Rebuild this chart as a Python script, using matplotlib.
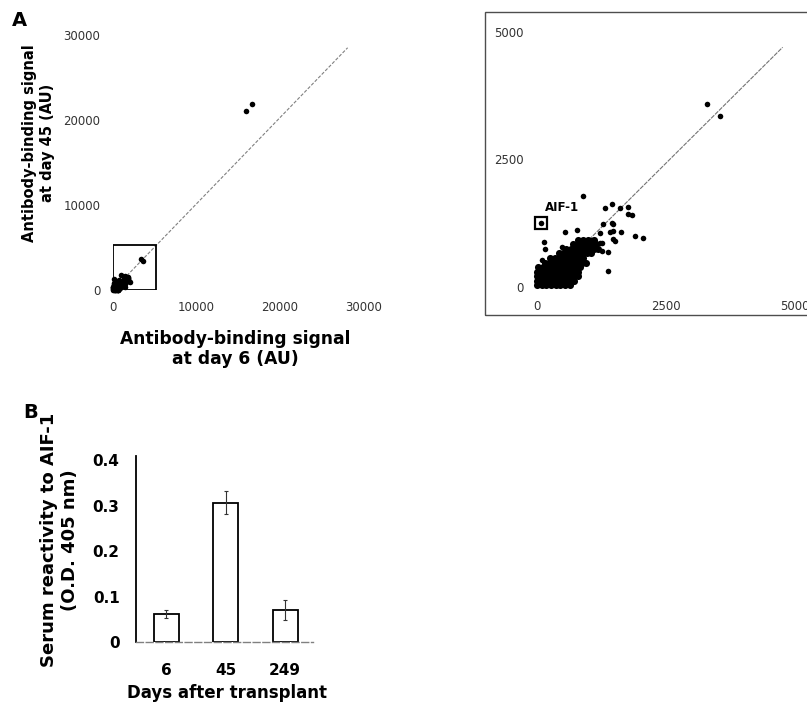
import numpy as np
import matplotlib
matplotlib.use("Agg")
import matplotlib.pyplot as plt
from matplotlib.patches import Rectangle

plt.rcParams['font.family'] = ['DejaVu Sans']

# array spots: (day 6 signal, day 45 signal) in AU
high_spots = [(15900, 21050), (16700, 21900)]
mid_spots = [(3300, 3590), (3540, 3360)]
scatter_spots = [
    (1320, 1555), (1460, 1620), (1610, 1545), (1770, 1575), (1770, 1425), (1850, 1410),
    (1270, 1230), (1450, 1260), (1480, 1230), (1220, 1065), (1420, 1085), (1470, 1105),
    (1620, 1085), (1480, 935), (1510, 905), (1890, 1000), (2050, 955), (1255, 870),
    (1255, 705), (1380, 320), (900, 1785), (540, 1085), (770, 1120), (140, 875),
    (160, 740), (480, 790), (1060, 920), (1220, 870), (1380, 690), (95, 530),
    (320, 530), (510, 530), (540, 40),
]
cluster_spots = [
    (0, 30), (90, 30), (180, 30), (270, 30), (360, 30), (450, 30), (540, 30), (630, 30),
    (0, 120), (90, 120), (180, 120), (270, 120), (360, 120), (450, 120), (540, 120), (630, 120), (720, 120),
    (0, 210), (90, 210), (180, 210), (270, 210), (360, 210), (450, 210), (540, 210), (630, 210), (720, 210), (790, 210),
    (0, 300), (90, 300), (180, 300), (270, 300), (360, 300), (450, 300), (540, 300), (630, 300), (720, 300), (800, 300),
    (20, 390), (110, 390), (200, 390), (290, 390), (380, 390), (470, 390), (560, 390), (650, 390), (740, 390), (830, 390),
    (150, 480), (240, 480), (330, 480), (420, 480), (510, 480), (600, 480), (690, 480), (780, 480), (870, 480), (940, 480),
    (260, 570), (350, 570), (440, 570), (530, 570), (620, 570), (710, 570), (800, 570), (890, 570),
    (420, 660), (510, 660), (600, 660), (690, 660), (780, 660), (870, 660), (960, 660), (1050, 660),
    (560, 750), (650, 750), (740, 750), (830, 750), (920, 750), (1010, 750), (1100, 750), (1180, 750),
    (700, 840), (790, 840), (880, 840), (970, 840), (1060, 840), (1150, 840),
    (800, 930), (890, 930), (980, 930), (1100, 930),
]
aif1_spot = (75, 1250)

# diagonal reference lines
full_line_x = [0, 28100]
full_line_y = [0, 28500]
zoom_line_x = [930, 4760]
zoom_line_y = [850, 4700]

full_ticks = [0, 10000, 20000, 30000]
zoom_ticks = [0, 2500, 5000]

# panel B
days = ['6', '45', '249']
reactivity = [0.062, 0.306, 0.071]
reactivity_err = [0.009, 0.025, 0.022]

single = np.array(high_spots + mid_spots + scatter_spots + [aif1_spot])
cluster = np.array(cluster_spots)

W, H = 807, 704
fig = plt.figure(figsize=(W / 100, H / 100), dpi=100)


def place(x0, y0, sx, sy, xlim, ylim):
    # x0, y0: pixel of data (0, 0); sx, sy: pixels per unit
    left = x0 + xlim[0] * sx
    right = x0 + xlim[1] * sx
    bottom = y0 - ylim[0] * sy
    top = y0 - ylim[1] * sy
    ax = fig.add_axes([left / W, 1 - bottom / H, (right - left) / W, (bottom - top) / H])
    ax.set_xlim(xlim)
    ax.set_ylim(ylim)
    return ax


tick_font = dict(size=8.5, color='0.2')

# ---- A, full range
ax_l = place(113, 290, 83.5 / 10000, 85 / 10000, (0, 30000), (0, 30000))
for s in ax_l.spines.values():
    s.set_visible(False)
ax_l.plot(full_line_x, full_line_y, color='0.5', lw=0.8, ls=(0, (3, 1.5)))
ax_l.scatter(single[:, 0], single[:, 1], s=16, color='black', lw=0, clip_on=False, zorder=3)
ax_l.scatter(cluster[:, 0], cluster[:, 1], s=16, color='black', lw=0, clip_on=False, zorder=3)
ax_l.add_patch(Rectangle((0, 0), 5200, 5300, fill=False, ec='black', lw=1.3, zorder=4))
ax_l.set_xticks(full_ticks)
ax_l.set_yticks(full_ticks)
ax_l.set_xticklabels([str(t) for t in full_ticks], **tick_font)
ax_l.set_yticklabels([str(t) for t in full_ticks], **tick_font)
ax_l.tick_params(length=0)
ax_l.tick_params(axis='x', pad=8)
ax_l.tick_params(axis='y', pad=9)

# ---- A, zoomed
sx = 129 / 2500
sy = 127.5 / 2500
ax_r = place(537, 287, sx, sy, (-150, 5000), (-150, 5000))
for s in ax_r.spines.values():
    s.set_visible(False)
ax_r.plot(zoom_line_x, zoom_line_y, color='0.45', lw=0.8, ls=(0, (4, 1)))
ax_r.scatter(cluster[:, 0], cluster[:, 1], s=26, color='black', lw=0, zorder=3)
ax_r.scatter(single[:, 0], single[:, 1], s=16, color='black', lw=0, zorder=3)
ax_r.plot([aif1_spot[0]], [aif1_spot[1]], marker='s', ms=9, mfc='none', mec='black', mew=1.6)
ax_r.text(490, 1560, 'AIF-1', ha='center', va='center', fontsize=8.5, fontweight='bold')
ax_r.set_xticks(zoom_ticks)
ax_r.set_yticks(zoom_ticks)
ax_r.set_xticklabels([str(t) for t in zoom_ticks], **tick_font)
ax_r.set_yticklabels([str(t) for t in zoom_ticks], **tick_font)
ax_r.tick_params(length=0)
ax_r.tick_params(axis='x', pad=3.5)
ax_r.tick_params(axis='y', pad=4)

# frame around zoomed panel (runs off the right edge)
fig.add_artist(Rectangle((485 / W, 1 - 315 / H), 330 / W, 303 / H, transform=fig.transFigure,
                         fill=False, ec='0.3', lw=1.0))

# connector from box to zoomed panel
ax_r.annotate('', xy=(-1050, 420), xycoords='data',
              xytext=(5200, 3150), textcoords=ax_l.transData,
              arrowprops=dict(arrowstyle='-|>', color='0.3', lw=0.8, ls=(0, (4, 1.5)),
                              mutation_scale=9, shrinkA=0, shrinkB=0))

fig.text(38.5 / W, 1 - 143 / H, 'Antibody-binding signal\nat day 45 (AU)', rotation=90,
         ha='center', va='center', multialignment='center', fontsize=10.5, fontweight='bold',
         linespacing=1.2)
fig.text(235 / W, 1 - 349 / H, 'Antibody-binding signal\nat day 6 (AU)',
         ha='center', va='center', multialignment='center', fontsize=12.3, fontweight='bold',
         linespacing=1.15)
fig.text(19 / W, 1 - 21 / H, 'A', ha='center', va='center', fontsize=14, fontweight='bold')

# ---- B
ax_b = fig.add_axes([136.25 / W, 1 - 642 / H, 176.75 / W, 186.5 / H])
x = np.arange(1, len(days) + 1)
ax_b.bar(x, reactivity, width=0.42, color='white', edgecolor='black', lw=1.3)
ax_b.errorbar(x, reactivity, yerr=reactivity_err, fmt='none', ecolor='0.2', elinewidth=0.8,
              capsize=1.5, capthick=0.8)
ax_b.set_xlim(0.5, 3.47)
ax_b.set_ylim(0, 0.41)
ax_b.set_xticks(x)
ax_b.set_xticklabels(days, fontsize=11, fontweight='bold')
ax_b.set_yticks([0, 0.1, 0.2, 0.3, 0.4])
ax_b.set_yticklabels(['0', '0.1', '0.2', '0.3', '0.4'], fontsize=11, fontweight='bold')
ax_b.tick_params(length=0)
ax_b.tick_params(axis='x', pad=15)
ax_b.tick_params(axis='y', pad=12)
ax_b.spines['top'].set_visible(False)
ax_b.spines['right'].set_visible(False)
ax_b.spines['left'].set_linewidth(1.3)
ax_b.spines['bottom'].set_color('0.5')
ax_b.spines['bottom'].set_linestyle((0, (5, 2)))
ax_b.spines['bottom'].set_linewidth(1.0)

fig.text(59.5 / W, 1 - 540 / H, 'Serum reactivity to AIF-1\n(O.D. 405 nm)', rotation=90,
         ha='center', va='center', multialignment='center', fontsize=13, fontweight='bold',
         linespacing=1.15)
fig.text(227 / W, 1 - 693 / H, 'Days after transplant', ha='center', va='center',
         fontsize=12, fontweight='bold')
fig.text(31 / W, 1 - 413 / H, 'B', ha='center', va='center', fontsize=14, fontweight='bold')

fig.savefig('out.png', dpi=100)
